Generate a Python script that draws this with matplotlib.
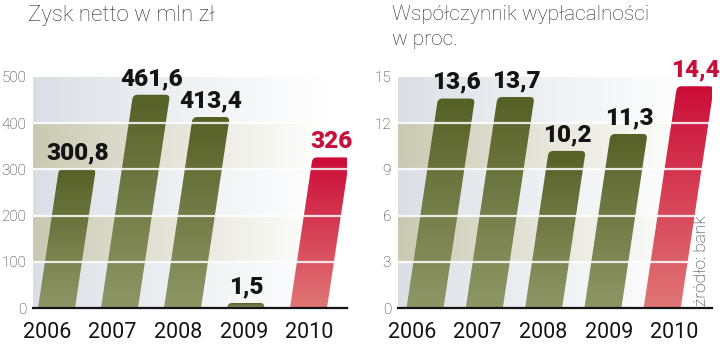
import numpy as np
import matplotlib
matplotlib.use("Agg")
import matplotlib.pyplot as plt
from matplotlib.patches import FancyBboxPatch
from matplotlib.transforms import Affine2D

# data
years = ["2006", "2007", "2008", "2009", "2010"]
profit = [300.8, 461.6, 413.4, 1.5, 326]
profit_txt = ["300,8", "461,6", "413,4", "1,5", "326"]
solvency = [13.6, 13.7, 10.2, 11.3, 14.4]
solvency_txt = ["13,6", "13,7", "10,2", "11,3", "14,4"]

# colours
GREEN_TOP = np.array([0.34, 0.38, 0.15])
GREEN_BOT = np.array([0.56, 0.59, 0.40])
RED_TOP = np.array([0.80, 0.05, 0.22])
RED_BOT = np.array([0.88, 0.46, 0.46])
RED_TXT = "#c8103c"
BAND_A = np.array([0.86, 0.875, 0.90])
BAND_B = np.array([0.79, 0.79, 0.70])

W, H = 720, 354
fig = plt.figure(figsize=(7.2, 3.54), dpi=100)

LIGHT = dict(family=["Roboto", "DejaVu Sans"], fontweight="light")
BOLD = dict(family=["Roboto", "DejaVu Sans"], fontweight="black")


def px_axes(x0, x1, y0, y1):
    return fig.add_axes([x0 / W, 1 - y1 / H, (x1 - x0) / W, (y1 - y0) / H])


def panel(ax, values, texts, ymax, step, spacing, first):
    ax_w, ax_h = 314, 231
    pux = spacing
    puy = ax_h / ymax
    x0 = -first / pux
    x1 = x0 + ax_w / pux

    # background bands fading to white
    nb = int(ymax / step)
    t = np.linspace(0, 1, 300)
    alpha = np.clip(1 - t * 1.05, 0, 1) ** 1.1
    bg = np.zeros((nb, 300, 4))
    for r in range(nb):
        bg[r, :, :3] = BAND_A if r % 2 == 0 else BAND_B
        bg[r, :, 3] = alpha
    ax.imshow(bg, extent=(x0, x1, 0, ymax), origin="lower", aspect="auto",
              interpolation="nearest", zorder=0)

    shear = 0.15 * puy / pux
    tr = Affine2D().skew(np.arctan(shear), 0) + ax.transData
    bw = 37 / pux
    rad = 4.5 / pux
    ext = 14 / puy
    n = len(values)
    for i, v in enumerate(values):
        last = i == n - 1
        top_c, bot_c = (RED_TOP, RED_BOT) if last else (GREEN_TOP, GREEN_BOT)
        h = max(v, 5 / puy)
        patch = FancyBboxPatch((i - bw / 2, -ext), bw, h + ext,
                               boxstyle="round,pad=0,rounding_size=%f" % rad,
                               mutation_aspect=pux / puy, transform=tr,
                               facecolor="none", edgecolor="none")
        ax.add_patch(patch)
        g = np.linspace(0, 1, 64)[:, None]
        img = (bot_c[None, :] * (1 - g) + top_c[None, :] * g)[:, None, :]
        im = ax.imshow(img, extent=(i - bw / 2 - 0.05, i + bw / 2 + shear * h + 0.05, 0, h),
                       origin="lower", aspect="auto", interpolation="bilinear", zorder=2)
        im.set_clip_path(patch)
        ax.annotate(texts[i], xy=(i + shear * h, h), xytext=(0, 3.5),
                    textcoords="offset points", ha="center", va="bottom",
                    fontsize=17.5, color=RED_TXT if last else "#141414",
                    zorder=6, annotation_clip=False, **BOLD)

    for y in np.arange(step, ymax, step):
        ax.axhline(y, color="white", lw=1.6, alpha=0.85, zorder=3)
    ax.axhline(0, color="#141414", lw=1.6, zorder=5, clip_on=False)

    ax.set_xlim(x0, x1)
    ax.set_ylim(0, ymax)
    for s in ax.spines.values():
        s.set_visible(False)
    ax.set_yticks(np.arange(0, ymax + 1, step))
    ax.set_yticklabels([str(int(y)) for y in np.arange(0, ymax + 1, step)],
                       fontsize=11, color="#2a2a2a", **LIGHT)
    ax.set_xticks(x0 + (14 + 65.6 * np.arange(n)) / pux)
    ax.set_xticklabels(years, fontsize=15.5, color="#141414",
                       family=["Roboto", "DejaVu Sans"])
    ax.tick_params(length=0)
    ax.tick_params(axis="y", pad=5)
    ax.tick_params(axis="x", pad=10)


ax1 = px_axes(33, 347, 77, 308)
panel(ax1, profit, profit_txt, 500, 100, 63, 23.5)
ax2 = px_axes(398, 712, 77, 308)
panel(ax2, solvency, solvency_txt, 15, 3, 59.3, 27)

fig.text(28 / W, 1 - 5 / H, "Zysk netto w mln zł", va="top", ha="left",
         fontsize=16, color="#2a2a2a", **LIGHT)
fig.text(392 / W, 1 - 5 / H, "Współczynnik wypłacalności\nw proc.", va="top",
         ha="left", fontsize=15, color="#2a2a2a", linespacing=1.4, **LIGHT)
fig.text(701 / W, 1 - 306 / H, "źródło: bank", rotation=90, ha="center",
         va="bottom", fontsize=12.5, color="#2a2a2a", **LIGHT)

fig.savefig("out.png", dpi=100)
